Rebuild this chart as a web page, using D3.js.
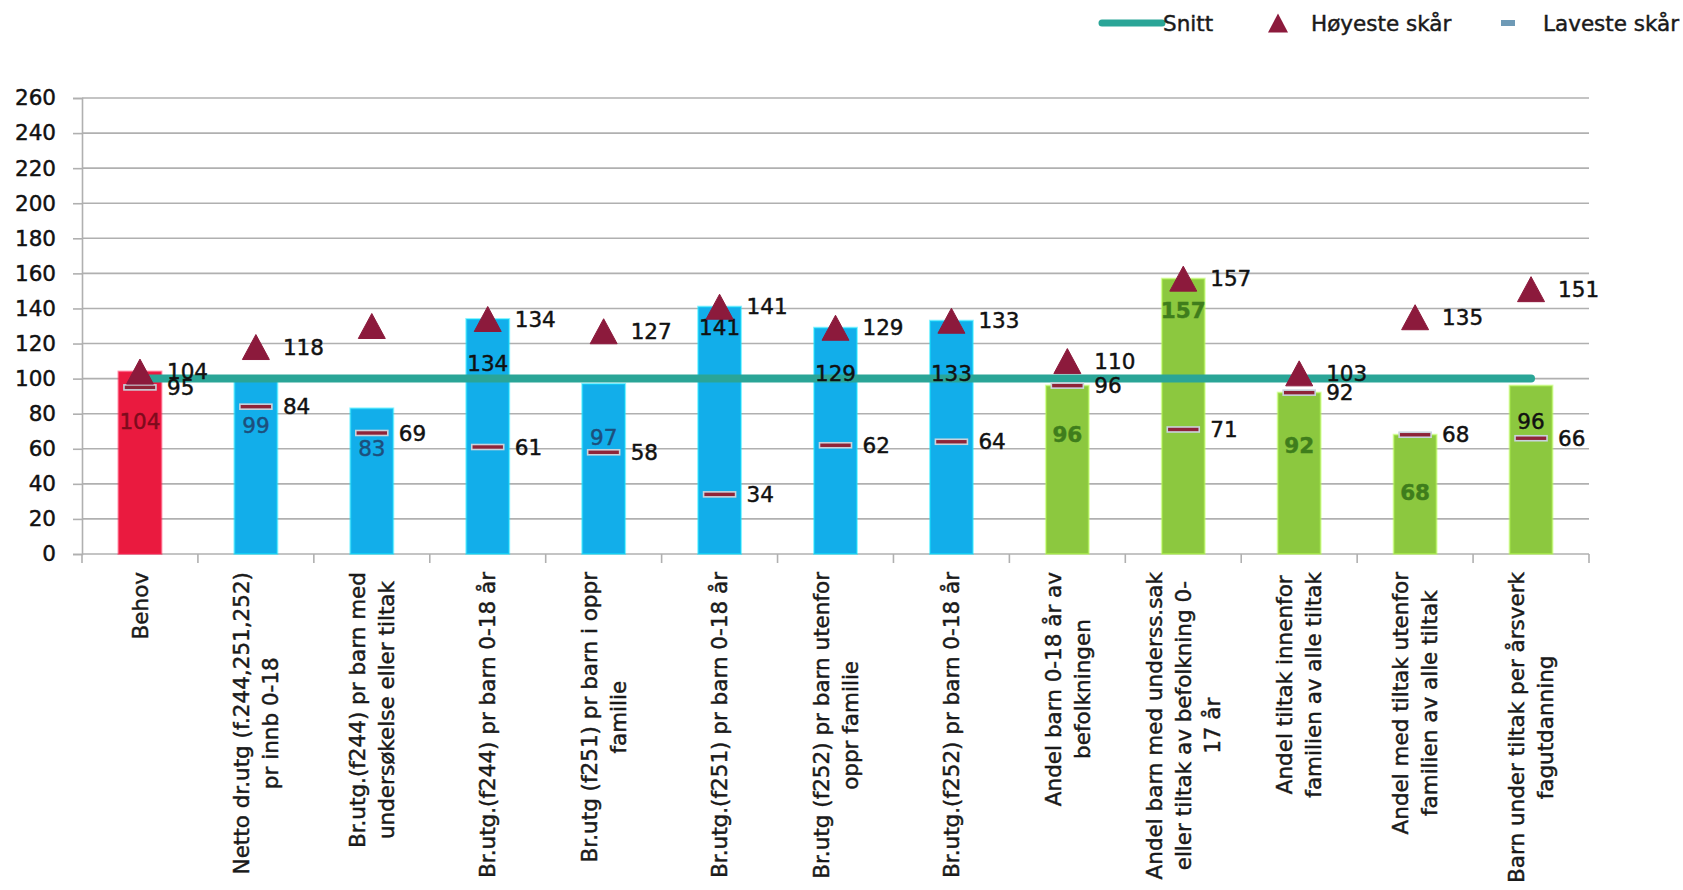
<!DOCTYPE html>
<html>
<head>
<meta charset="utf-8">
<script src="https://cdn.jsdelivr.net/npm/d3@7/dist/d3.min.js"></script>
<style>
  html, body { margin: 0; padding: 0; background: #fff; }
  svg { display: block; }
  text { font-family: "DejaVu Sans", Verdana, sans-serif; stroke: currentColor; stroke-width: 0.45px; }
</style>
</head>
<body>
<svg id="chart" width="1683" height="890"></svg>
<script>
// Category labels, already broken into the lines they are drawn with
const categories = [
  ["Behov"],
  ["Netto dr.utg (f.244,251,252)", "pr innb 0-18"],
  ["Br.utg.(f244) pr barn med", "undersøkelse eller tiltak"],
  ["Br.utg.(f244) pr barn 0-18 år"],
  ["Br.utg (f251) pr barn i oppr", "familie"],
  ["Br.utg.(f251) pr barn 0-18 år"],
  ["Br.utg (f252) pr barn utenfor", "oppr familie"],
  ["Br.utg.(f252) pr barn 0-18 år"],
  ["Andel barn 0-18 år av", "befolkningen"],
  ["Andel barn med underss.sak", "eller tiltak av befolkning 0-", "17 år"],
  ["Andel tiltak innenfor", "familien av alle tiltak"],
  ["Andel med tiltak utenfor", "familien av alle tiltak"],
  ["Barn under tiltak per årsverk", "fagutdanning"]
];

// Index value for the municipality (bars)
const values = [104, 99, 83, 134, 97, 141, 129, 133, 96, 157, 92, 68, 96];
// Highest score in the comparison group (triangles)
const highest = [104, 118, 130, 134, 127, 141, 129, 133, 110, 157, 103, 135, 151];
// Lowest score in the comparison group (dashes)
const lowest = [95, 84, 69, 61, 58, 34, 62, 64, 96, 71, 92, 68, 66];
// Which highest-score values carry a label
const highestLabelled = [true, true, false, true, true, true, true, true, true, true, true, true, true];
// Average (Snitt)
const average = 100;

const yTicks = [0, 20, 40, 60, 80, 100, 120, 140, 160, 180, 200, 220, 240, 260];

// Group of each category: 0 = need, 1 = expenses, 2 = shares
const groups = [0, 1, 1, 1, 1, 1, 1, 1, 2, 2, 2, 2, 2];

// ---- styling ----
const groupFill = ["#ea1a3f", "#12aeea", "#8cc83f"];
const innerLabelFill = ["#7d0b1c", "#1d4f7c", "#1d4f7c", "#111", "#1d4f7c", "#111", "#111", "#111",
                        "#3f7d1c", "#3f7d1c", "#3f7d1c", "#3f7d1c", "#111"];
const innerLabelBold = [false, false, false, false, false, false, false, false, true, true, true, true, false];
// distance (px) from the top of each bar down to its value label
const innerLabelDrop = [50, 45, 40, 44, 53, 21, 46, 53, 49, 32, 53, 58, 36];

const snittColor = "#2aa597";
const triColor = "#8c1a3c";
const dashColor = "#8e2438";
const gridColor = "#b0b0b0";
const FS = 21.5;

const svg = d3.select("#chart");

const plot = { left: 82, right: 1589, top: 98, bottom: 554 };

const x = d3.scaleBand()
  .domain(d3.range(categories.length))
  .range([plot.left, plot.right])
  .padding(0);

const y = d3.scaleLinear()
  .domain([0, 260])
  .range([plot.bottom, plot.top]);

const barW = x.bandwidth() * 0.37;
const cx = i => x(i) + x.bandwidth() / 2;

// ---- gridlines ----
svg.append("g")
  .selectAll("line")
  .data(yTicks.filter(t => t > 0))
  .join("line")
  .attr("x1", plot.left).attr("x2", plot.right)
  .attr("y1", d => y(d)).attr("y2", d => y(d))
  .attr("stroke", gridColor).attr("stroke-width", 1.6);

// ---- y axis ----
const yAxis = svg.append("g")
  .attr("transform", `translate(${plot.left},0)`)
  .call(d3.axisLeft(y).tickValues(yTicks).tickSize(9).tickPadding(17));
yAxis.select(".domain").attr("stroke", gridColor).attr("stroke-width", 1.6);
yAxis.selectAll(".tick line").attr("stroke", gridColor).attr("stroke-width", 1.6);
yAxis.selectAll(".tick text")
  .attr("font-size", FS).attr("fill", "#111").attr("color", "#111")
  .attr("font-family", "DejaVu Sans, sans-serif");

// ---- x axis ----
const xAxis = svg.append("g");
xAxis.append("line")
  .attr("x1", plot.left).attr("x2", plot.right)
  .attr("y1", y(0)).attr("y2", y(0))
  .attr("stroke", gridColor).attr("stroke-width", 1.6);
xAxis.selectAll("line.tick")
  .data(d3.range(categories.length + 1))
  .join("line")
  .attr("class", "tick")
  .attr("x1", i => plot.left + i * x.step()).attr("x2", i => plot.left + i * x.step())
  .attr("y1", y(0)).attr("y2", y(0) + 9)
  .attr("stroke", gridColor).attr("stroke-width", 1.6);

// ---- bars ----
svg.append("g")
  .selectAll("rect")
  .data(values)
  .join("rect")
  .attr("x", (d, i) => cx(i) - barW / 2)
  .attr("width", barW)
  .attr("y", d => y(d))
  .attr("height", d => y(0) - y(d))
  .attr("fill", (d, i) => groupFill[groups[i]])
  .attr("stroke", (d, i) => d3.color(groupFill[groups[i]]).brighter(0.8))
  .attr("stroke-opacity", 0.5)
  .attr("stroke-width", 2);

// ---- average line ----
svg.append("line")
  .attr("x1", cx(0)).attr("x2", cx(categories.length - 1))
  .attr("y1", y(average)).attr("y2", y(average))
  .attr("stroke", snittColor).attr("stroke-width", 8)
  .attr("stroke-linecap", "round");

// ---- value labels inside the bars ----
svg.append("g")
  .selectAll("text")
  .data(values)
  .join("text")
  .attr("x", (d, i) => cx(i))
  .attr("y", (d, i) => y(d) + innerLabelDrop[i])
  .attr("dy", "0.36em")
  .attr("text-anchor", "middle")
  .attr("font-size", FS)
  .attr("font-weight", (d, i) => innerLabelBold[i] ? "bold" : "normal")
  .attr("fill", (d, i) => innerLabelFill[i])
  .attr("color", (d, i) => innerLabelFill[i])
  .text(d => d);

// ---- lowest-score dashes ----
const dashW = 32, dashH = 5;
svg.append("g")
  .selectAll("rect")
  .data(lowest)
  .join("rect")
  .attr("x", (d, i) => cx(i) - dashW / 2)
  .attr("y", d => y(d) - dashH / 2)
  .attr("width", dashW).attr("height", dashH)
  .attr("fill", dashColor)
  .attr("stroke", "#c9d3dc").attr("stroke-width", 1.6);

// ---- highest-score triangles ----
const triPath = (w, h) => `M0,${-h / 2}L${w / 2},${h / 2}L${-w / 2},${h / 2}Z`;
svg.append("g")
  .selectAll("path")
  .data(highest)
  .join("path")
  .attr("transform", (d, i) => `translate(${cx(i)},${y(d)})`)
  .attr("d", triPath(27, 25))
  .attr("fill", triColor)
  .attr("stroke", triColor).attr("stroke-width", 1).attr("stroke-linejoin", "round");

// ---- labels beside the markers ----
const sideLabels = svg.append("g").attr("font-size", FS).attr("fill", "#111").attr("color", "#111");
sideLabels.selectAll("text.hi")
  .data(highest.map((v, i) => ({ v, i })).filter(d => highestLabelled[d.i]))
  .join("text")
  .attr("class", "hi")
  .attr("x", d => cx(d.i) + 27)
  .attr("y", d => y(d.v))
  .attr("dy", "0.36em")
  .text(d => d.v);
sideLabels.selectAll("text.lo")
  .data(lowest.map((v, i) => ({ v, i })))
  .join("text")
  .attr("class", "lo")
  .attr("x", d => cx(d.i) + 27)
  .attr("y", d => y(d.v))
  .attr("dy", "0.36em")
  .text(d => d.v);

// ---- category labels (rotated, lines centred on one another) ----
const labelTop = 572, lineGap = 29;
const catG = svg.append("g").attr("font-size", FS).attr("fill", "#1a1a1a").attr("color", "#1a1a1a");
categories.forEach((lines, i) => {
  const g = catG.append("g");
  const texts = lines.map((line, k) =>
    g.append("text")
      .attr("text-anchor", "middle")
      .attr("dy", "0.36em")
      .text(line));
  const maxW = d3.max(texts, t => t.node().getComputedTextLength());
  texts.forEach((t, k) => {
    const lx = cx(i) + (k - (lines.length - 1) / 2) * lineGap;
    t.attr("transform", `translate(${lx},${labelTop + maxW / 2}) rotate(-90)`);
  });
});

// ---- legend ----
const legend = svg.append("g").attr("font-size", FS).attr("fill", "#1a1a1a").attr("color", "#1a1a1a");
const ly = 23;
legend.append("line")
  .attr("x1", 1102).attr("x2", 1162).attr("y1", ly).attr("y2", ly)
  .attr("stroke", snittColor).attr("stroke-width", 7).attr("stroke-linecap", "round");
legend.append("text").attr("x", 1163).attr("y", ly).attr("dy", "0.36em").text("Snitt");
legend.append("path")
  .attr("transform", `translate(1278,${ly})`)
  .attr("d", triPath(20, 19))
  .attr("fill", triColor);
legend.append("text").attr("x", 1311).attr("y", ly).attr("dy", "0.36em").text("Høyeste skår");
legend.append("rect")
  .attr("x", 1501).attr("y", ly - 3).attr("width", 14).attr("height", 6)
  .attr("fill", "#6e9ab6");
legend.append("text").attr("x", 1543).attr("y", ly).attr("dy", "0.36em").text("Laveste skår");
</script>
</body>
</html>
